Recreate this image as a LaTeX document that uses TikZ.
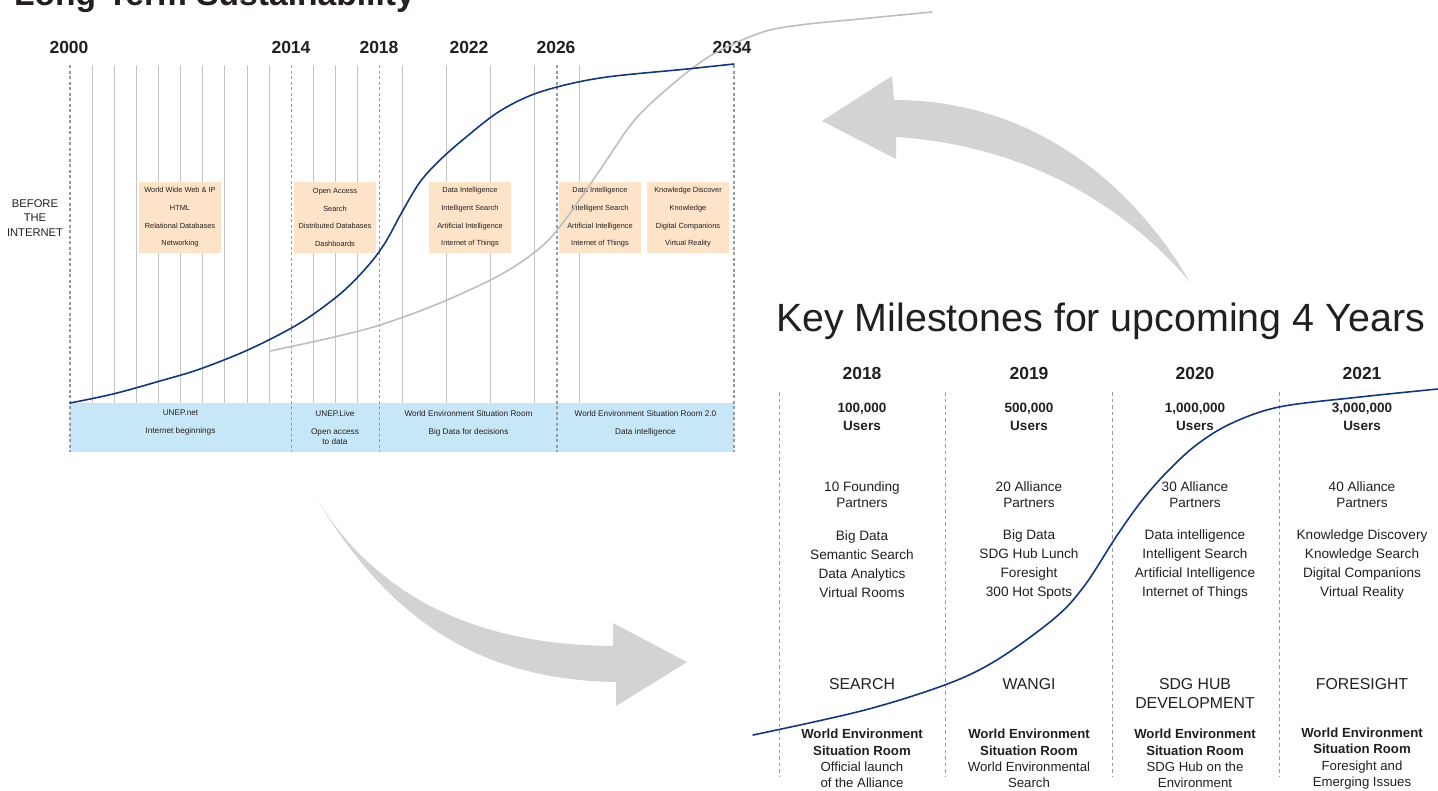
\documentclass[tikz,border=0pt]{standalone}
\usepackage{fontspec}
\setmainfont{Liberation Sans}
\definecolor{txt}{HTML}{231F20}
\definecolor{gridc}{HTML}{C4C4C4}
\definecolor{dashc}{HTML}{9B9B9B}
\definecolor{bandc}{HTML}{C7E7F8}
\definecolor{boxc}{HTML}{FDE4C8}
\definecolor{navy}{HTML}{13387A}
\definecolor{greyc}{HTML}{BEBEBE}
\definecolor{arrowc}{HTML}{D1D3D4}
\newcommand\fsz[2]{\fontsize{#1}{#2}\selectfont}
\tikzset{
  lbl/.style={inner sep=0pt, outer sep=0pt, text=txt, align=center},
  gridline/.style={draw=gridc, line width=0.9pt},
  dashline/.style={draw=dashc, line width=1.2pt, dash pattern=on 3pt off 2.5pt},
  rdash/.style={draw=dashc, line width=1pt, dash pattern=on 3.5pt off 3pt},
  tagbox/.style={fill=boxc},
  boxtext/.style={lbl, font=\fsz{7.4}{17.7}},
  bandtext/.style={lbl, font=\fsz{8.2}{18}},
  yearl/.style={lbl, font=\bfseries\fsz{17.5}{20}},
  users/.style={lbl, font=\bfseries\fsz{13.5}{18}},
  partners/.style={lbl, font=\fsz{13.6}{16}},
  listt/.style={lbl, font=\fsz{13.6}{19}},
  namet/.style={lbl, font=\fsz{15.8}{19}},
  bottomt/.style={lbl, font=\fsz{13.2}{16.3}},
  curveblue/.style={draw=navy, line width=1.6pt, line cap=round},
  curvegrey/.style={draw=greyc, line width=1.6pt, line cap=round},
  bigarrow/.style={fill=arrowc},
}
\begin{document}
\begin{tikzpicture}[x=1pt,y=-1pt]
\useasboundingbox (0,0) rectangle (1438,790);

% titles
\node[lbl, anchor=base west, font=\bfseries\fsz{33.6}{36}] (ttl1) at (14,5) {Long-Term Sustainability};
\node[lbl, anchor=base west, font=\fsz{39.4}{42}] (ttl2) at (776,331) {Key Milestones for upcoming 4 Years};

% left panel: band
\fill[bandc] (70,403) rectangle (734,452);
% grid
\foreach \i in {1,...,9,11,12,13,15,...,21,23,...,29}
  \draw[gridline] (70+22.133*\i,65) -- (70+22.133*\i,403);
\foreach \i in {0,10,14,22,30}
  \draw[dashline] (70+22.133*\i,65) -- (70+22.133*\i,452);

% year labels
\node[yearl] (y2000) at (69,47) {2000};
\node[yearl] (y2014) at (291,47) {2014};
\node[yearl] (y2018) at (379,47) {2018};
\node[yearl] (y2022) at (469,47) {2022};
\node[yearl] (y2026) at (556,47) {2026};
\node[yearl] (y2034) at (732,47) {2034};

\node[lbl, font=\fsz{11.2}{14.5}] (before) at (35,218) {BEFORE\\THE\\INTERNET};

% orange boxes
\fill[tagbox] (139,182) rectangle (221,253);
\fill[tagbox] (294,182) rectangle (376,253);
\fill[tagbox] (429,182) rectangle (511,253);
\fill[tagbox] (559,182) rectangle (641,253);
\fill[tagbox] (647,182) rectangle (729,253);
\node[boxtext] (b1) at (180,217.5) {World Wide Web \& IP\\HTML\\Relational Databases\\Networking};
\node[boxtext] (b2) at (335,217.5) {Open Access\\Search\\Distributed Databases\\Dashboards};
\node[boxtext] (b3) at (470,217.5) {Data Intelligence\\Intelligent Search\\Artificial Intelligence\\Internet of Things};
\node[boxtext] (b4) at (600,217.5) {Data Intelligence\\Intelligent Search\\Artificial Intelligence\\Internet of Things};
\node[boxtext] (b5) at (688,217.5) {Knowledge Discover\\Knowledge\\Digital Companions\\Virtual Reality};

% band texts
\node[bandtext] (t1) at (180.5,423) {UNEP.net\\Internet beginnings};
\node[bandtext] (t2a) at (335,414) {UNEP.Live};
\node[bandtext, font=\fsz{8.2}{10}] (t2b) at (335,437) {Open access\\to data};
\node[bandtext] (t3) at (468.5,423) {World Environment Situation Room\\Big Data for decisions};
\node[bandtext] (t4) at (645.5,423) {World Environment Situation Room 2.0\\Data intelligence};

% curves left
\draw[curvegrey] plot[smooth, tension=0.55] coordinates {(270,351) (330,338) (380,325) (440,303) (500,275) (540,248) (565,220) (600,170) (633,122) (667,89) (710,56) (760,33) (800,25) (870,18) (932,12)};
\draw[curveblue] plot[smooth, tension=0.55] coordinates {(70,403) (113,394) (160,381) (200,369) (250,349) (300,323) (340,294) (367,267) (385,243) (402,212) (420,182) (440,160) (465,138) (500,111) (540,92) (600,78) (687,69) (734,64)};

% right panel
\foreach \x in {779,945,1112,1279}
  \draw[rdash] (\x,392) -- (\x,776);

\node[yearl] (r1y) at (862,373) {2018};
\node[yearl] (r2y) at (1029,373) {2019};
\node[yearl] (r3y) at (1195,373) {2020};
\node[yearl] (r4y) at (1362,373) {2021};

\node[users] (r1u) at (862,417) {100,000\\Users};
\node[users] (r2u) at (1029,417) {500,000\\Users};
\node[users] (r3u) at (1195,417) {1,000,000\\Users};
\node[users] (r4u) at (1362,417) {3,000,000\\Users};

\node[partners] (r1p) at (862,495) {10 Founding\\Partners};
\node[partners] (r2p) at (1029,495) {20 Alliance\\Partners};
\node[partners] (r3p) at (1195,495) {30 Alliance\\Partners};
\node[partners] (r4p) at (1362,495) {40 Alliance\\Partners};

\node[listt] (r1l) at (862,564.5) {Big Data\\Semantic Search\\Data Analytics\\Virtual Rooms};
\node[listt] (r2l) at (1029,564.5) {Big Data\\SDG Hub Lunch\\Foresight\\300 Hot Spots};
\node[listt] (r3l) at (1195,564.5) {Data intelligence\\Intelligent Search\\Artificial Intelligence\\Internet of Things};
\node[listt] (r4l) at (1362,564.5) {Knowledge Discovery\\Knowledge Search\\Digital Companions\\Virtual Reality};

\node[namet] (r1n) at (862,684) {SEARCH};
\node[namet] (r2n) at (1029,684) {WANGI};
\node[namet] (r3n) at (1195,693.5) {SDG HUB\\DEVELOPMENT};
\node[namet] (r4n) at (1362,684) {FORESIGHT};

\node[bottomt] (r1b) at (862,758.5) {\textbf{World Environment}\\\textbf{Situation Room}\\Official launch\\of the Alliance};
\node[bottomt] (r2b) at (1029,758.5) {\textbf{World Environment}\\\textbf{Situation Room}\\World Environmental\\Search};
\node[bottomt] (r3b) at (1195,758.5) {\textbf{World Environment}\\\textbf{Situation Room}\\SDG Hub on the\\Environment};
\node[bottomt] (r4b) at (1362,758.5) {\textbf{World Environment}\\\textbf{Situation Room}\\Foresight and\\Emerging Issues};

\draw[curveblue] plot[smooth, tension=0.55] coordinates {(753,735) (865,710) (950,683) (1000,658) (1056,617) (1085,585) (1116,537) (1140,503) (1165,474) (1195,446) (1230,424) (1279,407) (1360,397) (1438,389)};

% big arrows
\fill[bigarrow] (1190,282) .. controls (1120,200) and (1020,145) .. (896,137) -- (896,159) -- (822,121) -- (892,76) -- (894,100) .. controls (1030,100) and (1130,180) .. (1190,282) -- cycle;
\fill[bigarrow] (318,501) .. controls (380,600) and (480,645) .. (613,646) -- (613,623) -- (687,662) -- (616,706) -- (616,682) .. controls (480,680) and (390,620) .. (318,501) -- cycle;
\end{tikzpicture}
\end{document}
